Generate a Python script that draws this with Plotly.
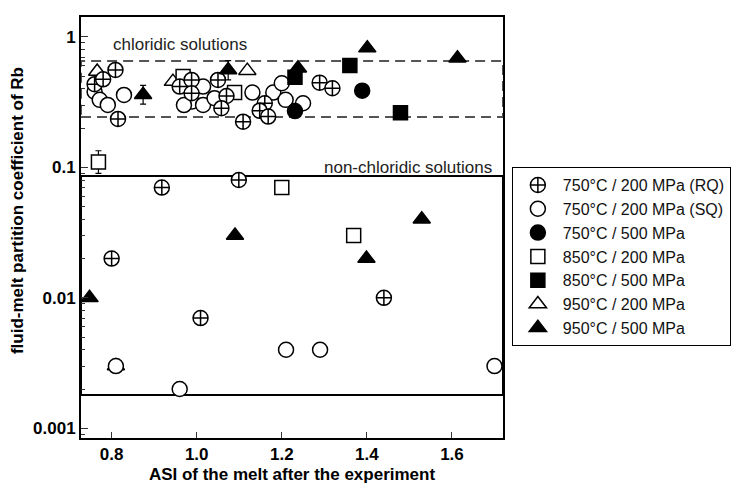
import math
import plotly.graph_objects as go

# ---- data: ASI of the melt vs. fluid-melt partition coefficient of Rb ----
rq_750_200_x = [0.760, 0.780, 0.809, 0.815, 0.960, 0.988, 0.988, 1.050, 1.070, 1.058,
                1.109, 1.160, 1.148, 1.168, 1.289, 1.319,
                0.918, 1.099, 0.800, 1.009, 1.440]
rq_750_200_y = [0.434, 0.473, 0.558, 0.235, 0.416, 0.468, 0.370, 0.468, 0.352, 0.284,
                0.224, 0.310, 0.272, 0.245, 0.446, 0.404,
                0.070, 0.080, 0.020, 0.007, 0.010]

sq_750_200_x = [0.760, 0.772, 0.791, 0.829, 0.988, 0.970, 1.015, 1.015, 1.042, 1.131,
                1.180, 1.200, 1.209, 1.250,
                0.810, 0.960, 1.210, 1.290, 1.700]
sq_750_200_y = [0.380, 0.329, 0.301, 0.359, 0.319, 0.300, 0.416, 0.301, 0.339, 0.374,
                0.374, 0.441, 0.329, 0.310,
                0.003, 0.002, 0.004, 0.004, 0.003]

t750_500_x = [1.231, 1.389]
t750_500_y = [0.270, 0.387]

t850_200_x = [0.769, 0.968, 1.089, 1.200, 1.369]
t850_200_y = [0.110, 0.496, 0.374, 0.070, 0.030]
t850_200_err_plus = [0.024, 0, 0, 0, 0]
t850_200_err_minus = [0.020, 0, 0, 0, 0]

t850_500_x = [1.231, 1.360, 1.479]
t850_500_y = [0.490, 0.603, 0.262]

t950_200_x = [0.766, 0.944, 1.119, 0.810]
t950_200_y = [0.542, 0.454, 0.551, 0.003]

t950_500_x = [0.874, 1.074, 1.238, 1.401, 1.613, 0.748, 1.090, 1.399, 1.529]
t950_500_y = [0.360, 0.558, 0.575, 0.820, 0.687, 0.010, 0.030, 0.020, 0.040]
t950_500_err_plus = [0.065, 0.100, 0, 0, 0, 0, 0, 0, 0]
t950_500_err_minus = [0.055, 0.090, 0, 0, 0, 0, 0, 0, 0]

# fields of the two solution types (Rb partition coefficient bounds)
chloridic_low, chloridic_high = 0.243, 0.654
nonchloridic_low, nonchloridic_high = 0.0018, 0.0857

x_range = [0.728, 1.72]
y_range = [0.000843, 1.42]
y_labels = {"0.001": "0.001", "0.01": "0.01", "0.1": "0.1", "1": "1"}
x_tickvals = [0.8, 1.0, 1.2, 1.4, 1.6]
x_ticktext = ["0.8", "1.0", "1.2", "1.4", "1.6"]

FONT = "Liberation Sans, Arial, Helvetica, sans-serif"
BLACK = "#000000"
LW = 1.5

fig = go.Figure()


def add_series(x, y, name, symbol, fill, size, rank, err=None):
    kw = {}
    if err is not None:
        kw["error_y"] = dict(type="data", symmetric=False, array=err[0],
                             arrayminus=err[1], color=BLACK, thickness=1.2, width=3)
    fig.add_trace(go.Scatter(
        x=x, y=y, mode="markers", name=name, legendrank=rank,
        marker=dict(symbol=symbol, size=size, color=fill,
                    line=dict(color=BLACK, width=LW)),
        **kw))


# drawing order: hollow shapes underneath, solid shapes on top
add_series(t950_200_x, t950_200_y, "950°C / 200 MPa", "triangle-up", "white", 15, 6)
add_series(t850_200_x, t850_200_y, "850°C / 200 MPa", "square", "white", 14, 4,
           err=(t850_200_err_plus, t850_200_err_minus))
add_series(sq_750_200_x, sq_750_200_y, "750°C / 200 MPa (SQ)", "circle", "white", 15, 2)
add_series(rq_750_200_x, rq_750_200_y, "750°C / 200 MPa (RQ)", "circle-cross", "white", 15, 1)
add_series(t750_500_x, t750_500_y, "750°C / 500 MPa", "circle", BLACK, 15, 3)
add_series(t850_500_x, t850_500_y, "850°C / 500 MPa", "square", BLACK, 14, 5)
add_series(t950_500_x, t950_500_y, "950°C / 500 MPa", "triangle-up", BLACK, 15, 7,
           err=(t950_500_err_plus, t950_500_err_minus))

# chloridic field (dashed) and non-chloridic field (solid)
fig.add_shape(type="rect", xref="x domain", yref="y", x0=0, x1=1,
              y0=chloridic_low, y1=chloridic_high,
              line=dict(color="#555555", width=2, dash="10px,6px"), layer="below")
fig.add_shape(type="rect", xref="x domain", yref="y", x0=0, x1=1,
              y0=nonchloridic_low, y1=nonchloridic_high,
              line=dict(color=BLACK, width=2), layer="below")

fig.add_annotation(text="chloridic solutions", xref="x", yref="y",
                   x=0.798, y=math.log10(0.87), xanchor="left", yanchor="middle",
                   showarrow=False, font=dict(family=FONT, size=17, color="#222222"))
fig.add_annotation(text="non-chloridic solutions", xref="x", yref="y",
                   x=1.699, y=math.log10(0.1), xanchor="right", yanchor="middle",
                   showarrow=False, font=dict(family=FONT, size=17, color="#222222"))
fig.add_annotation(text="<b>fluid-melt partition coefficient of Rb</b>",
                   xref="paper", yref="paper", x=-0.152, y=0.541, textangle=-90,
                   xanchor="center", yanchor="middle", showarrow=False,
                   font=dict(family=FONT, size=17, color=BLACK))

fig.update_xaxes(
    range=x_range, tickvals=x_tickvals, ticktext=x_ticktext,
    ticks="inside", ticklen=6, tickwidth=1.3, tickcolor="#333333",
    showline=True, linewidth=1.6, linecolor=BLACK, mirror=True,
    showgrid=False, zeroline=False,
    tickfont=dict(family=FONT, size=17, color=BLACK, weight="bold"),
    title=dict(text="<b>ASI of the melt after the experiment</b>", standoff=8,
               font=dict(family=FONT, size=17, color=BLACK)),
    automargin=False,
)
fig.update_yaxes(
    type="log", range=[math.log10(y_range[0]), math.log10(y_range[1])],
    tickmode="linear", tick0=0, dtick=1, labelalias=y_labels,
    ticks="inside", ticklen=7, tickwidth=1.3, tickcolor="#333333",
    minor=dict(ticks="inside", ticklen=4, tickwidth=1.2, tickcolor="#333333",
               dtick="D1", showgrid=False),
    showline=True, linewidth=2, linecolor=BLACK, mirror=True,
    showgrid=False, zeroline=False,
    tickfont=dict(family=FONT, size=17, color=BLACK, weight="bold"),
    automargin=False,
)

fig.update_layout(
    width=733, height=484,
    margin=dict(l=81, r=230, t=17, b=46, autoexpand=False),
    paper_bgcolor="white", plot_bgcolor="white",
    showlegend=True,
    legend=dict(x=1.021, y=0.6435, xanchor="left", yanchor="top",
                bordercolor=BLACK, borderwidth=1, bgcolor="white",
                itemwidth=40, traceorder="normal",
                font=dict(family=FONT, size=16, color="#111111")),
)

fig.write_html("out.html")
